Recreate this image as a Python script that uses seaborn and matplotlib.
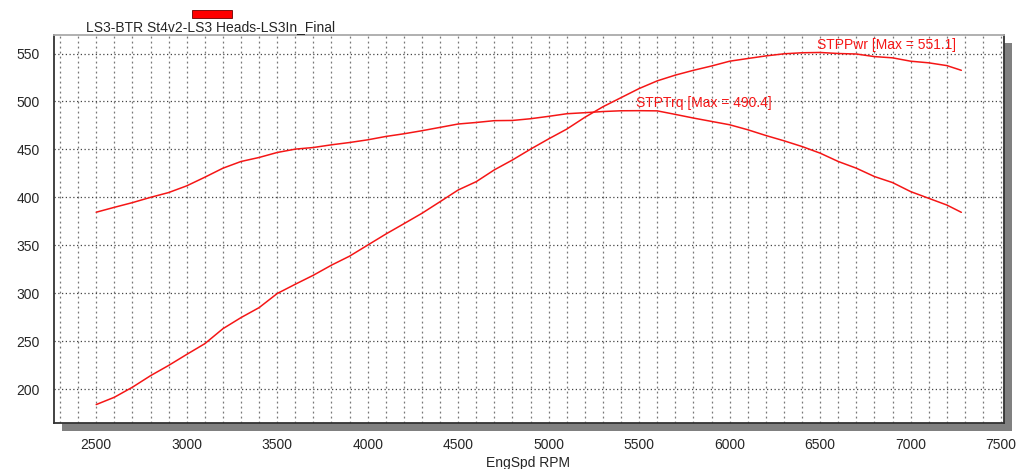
import matplotlib
matplotlib.use("Agg")
import matplotlib.pyplot as plt
from matplotlib.patches import Rectangle
from matplotlib.ticker import MultipleLocator
import numpy as np
import pandas as pd
import seaborn as sns

# ---- data ----
rpm = [2500, 2600, 2700, 2800, 2900, 3000, 3100, 3200, 3300, 3400, 3500, 3600,
       3700, 3800, 3900, 4000, 4100, 4200, 4300, 4400, 4500, 4600, 4700, 4800,
       4900, 5000, 5100, 5200, 5300, 5400, 5500, 5600, 5700, 5800, 5900, 6000,
       6100, 6200, 6300, 6400, 6500, 6600, 6700, 6800, 6900, 7000, 7100, 7200, 7280]
torque = [384.5, 389.6, 394.5, 400.0, 405.0, 412.0, 421.0, 430.4, 437.4, 441.6,
          446.8, 450.3, 452.0, 454.8, 457.2, 460.0, 463.5, 466.3, 469.5, 473.0,
          476.5, 478.1, 480.0, 480.2, 482.0, 484.5, 487.2, 488.3, 489.5, 490.3,
          490.4, 490.2, 486.5, 482.7, 479.2, 475.7, 470.5, 464.5, 459.0, 453.0,
          446.1, 437.4, 430.4, 421.7, 415.4, 406.0, 399.0, 392.0, 384.4]
power = [183.9, 191.5, 202.0, 214.0, 224.7, 236.2, 247.4, 263.0, 274.6, 285.0,
         299.7, 309.4, 318.8, 329.3, 338.7, 350.2, 361.7, 372.5, 383.4, 395.5,
         407.7, 416.4, 428.7, 439.0, 450.3, 461.0, 471.2, 483.5, 494.5, 504.0,
         513.5, 521.5, 527.5, 532.5, 537.0, 542.0, 544.8, 547.5, 549.7, 550.8,
         551.1, 550.0, 549.5, 546.8, 545.5, 542.0, 540.3, 537.4, 532.5]
title_text = "LS3-BTR St4v2-LS3 Heads-LS3In_Final"
pwr_label = "STPPwr [Max = 551.1]"
trq_label = "STPTrq [Max = 490.4]"
x_ticks = [2500, 3000, 3500, 4000, 4500, 5000, 5500, 6000, 6500, 7000, 7500]
y_ticks = [200, 250, 300, 350, 400, 450, 500, 550]

df = pd.DataFrame({"rpm": rpm * 2,
                   "value": torque + power,
                   "series": ["STPTrq"] * len(rpm) + ["STPPwr"] * len(rpm)})

sns.set_style("white")
plt.rcParams['font.family'] = ['Liberation Sans', 'DejaVu Sans']

W, H = 1024, 469
fig = plt.figure(figsize=(W / 100, H / 100), dpi=100)
L, R, T, B = 53.5, 1003.5, 35.5, 422.5
ax = fig.add_axes([L / W, 1 - B / H, (R - L) / W, (B - T) / H])

# drop shadow behind axes
shadow = Rectangle(((L + 8.5) / W, 1 - (B + 8) / H), (R - L) / W, (B - T) / H,
                   transform=fig.transFigure, facecolor="#808080",
                   edgecolor="none", zorder=-10)
fig.patches.append(shadow)

sns.lineplot(data=df, x="rpm", y="value", hue="series",
             palette={"STPTrq": "#f51616", "STPPwr": "#f51616"},
             linewidth=1.1, legend=False, ax=ax, sort=False, estimator=None)

ax.set_xlim(2264, 7513)
ax.set_ylim(165.2, 568.8)
ax.set_xticks(x_ticks)
ax.set_yticks(y_ticks)
ax.xaxis.set_minor_locator(MultipleLocator(100))
ax.yaxis.set_minor_locator(MultipleLocator(10))
ax.grid(which="major", axis="y", color="#444444", linestyle=(0, (1, 2)), linewidth=0.9)
ax.grid(which="both", axis="x", color="#777777", linestyle=(0, (1.5, 2.5)), linewidth=0.9)
ax.set_axisbelow(True)

ax.tick_params(axis="x", which="major", direction="out", length=10, width=0.8,
               color="#777777", labelsize=10, pad=1)
ax.tick_params(axis="x", which="minor", length=0)
ax.tick_params(axis="y", which="major", direction="out", length=4, width=0.8,
               color="#555555", labelsize=10, pad=6)
ax.tick_params(axis="y", which="minor", direction="in", length=3, width=0.6,
               color="#777777")

ax.set_xlabel("EngSpd RPM", fontsize=10, labelpad=3)
ax.set_ylabel("")

for side in ["left", "bottom", "right"]:
    ax.spines[side].set_color("#333333")
    ax.spines[side].set_linewidth(1.3)
ax.spines["top"].set_color("#aaaaaa")
ax.spines["top"].set_linewidth(1.3)
ax.set_facecolor("white")

ax.text(6480, 558.4, pwr_label, color="#f51616", fontsize=10, ha="left", va="center")
ax.text(5480, 498.7, trq_label, color="#f51616", fontsize=10, ha="left", va="center")

fig.text(211 / W, 1 - 27 / H, title_text, fontsize=10, ha="center", va="center")
box = Rectangle((192 / W, 1 - 18 / H), 40 / W, 8 / H, transform=fig.transFigure,
                facecolor="#ff0000", edgecolor="#660000", linewidth=0.6)
fig.patches.append(box)

fig.savefig("out.png", dpi=100, facecolor="white")
